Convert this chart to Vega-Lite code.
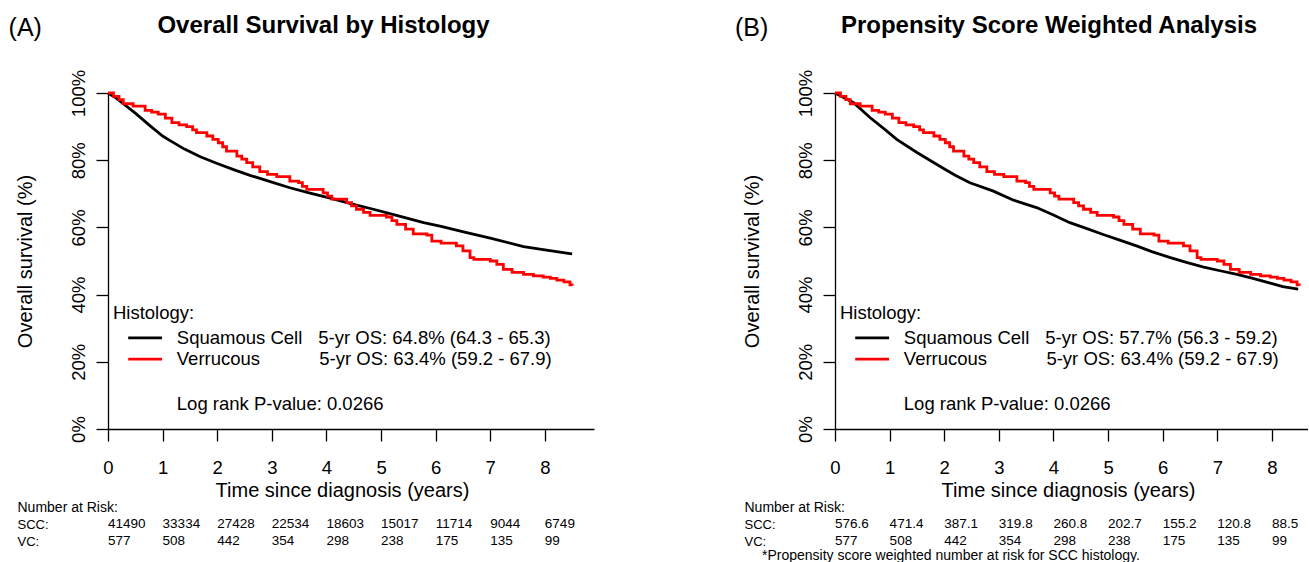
{
  "$schema": "https://vega.github.io/schema/vega-lite/v6.json",
  "padding": {"left": 8, "top": 13, "right": 0, "bottom": 0},
  "spacing": 141,
  "config": {
    "font": "Liberation Sans",
    "view": {"stroke": null},
    "axis": {"domainColor": "#000000", "tickColor": "#000000", "labelColor": "#000000", "titleColor": "#000000", "grid": false, "labelFont": "Liberation Sans", "titleFont": "Liberation Sans", "domainWidth": 1.3, "tickWidth": 1.3},
    "text": {"font": "Liberation Sans", "color": "#000000"}
  },
  "datasets": {
    "scc_a": [
      {"t": 0, "s": 1}, {"t": 0.15, "s": 0.985}, {"t": 0.28, "s": 0.968}, {"t": 0.5, "s": 0.94}, {"t": 0.75, "s": 0.905},
      {"t": 1.0, "s": 0.872}, {"t": 1.13, "s": 0.859}, {"t": 1.4, "s": 0.833}, {"t": 1.69, "s": 0.81}, {"t": 2.0, "s": 0.79},
      {"t": 2.3, "s": 0.772}, {"t": 2.6, "s": 0.755}, {"t": 3.0, "s": 0.735}, {"t": 3.33, "s": 0.718}, {"t": 3.7, "s": 0.702},
      {"t": 4.07, "s": 0.687}, {"t": 4.46, "s": 0.67}, {"t": 4.86, "s": 0.654}, {"t": 5.3, "s": 0.635}, {"t": 5.78, "s": 0.614},
      {"t": 6.1, "s": 0.603}, {"t": 6.51, "s": 0.587}, {"t": 7.0, "s": 0.568}, {"t": 7.61, "s": 0.543}, {"t": 8.0, "s": 0.533},
      {"t": 8.46, "s": 0.522}, {"t": 8.5, "s": 0.521}
    ],
    "scc_b": [
      {"t": 0, "s": 1}, {"t": 0.34, "s": 0.971}, {"t": 0.64, "s": 0.927}, {"t": 0.9, "s": 0.893}, {"t": 1.13, "s": 0.862},
      {"t": 1.5, "s": 0.823}, {"t": 1.98, "s": 0.776}, {"t": 2.2, "s": 0.755}, {"t": 2.47, "s": 0.733}, {"t": 2.9, "s": 0.708},
      {"t": 3.27, "s": 0.681}, {"t": 3.69, "s": 0.659}, {"t": 4.0, "s": 0.637}, {"t": 4.3, "s": 0.614}, {"t": 4.6, "s": 0.597},
      {"t": 4.91, "s": 0.579}, {"t": 5.2, "s": 0.563}, {"t": 5.52, "s": 0.545}, {"t": 5.8, "s": 0.528}, {"t": 6.14, "s": 0.51},
      {"t": 6.45, "s": 0.495}, {"t": 6.75, "s": 0.482}, {"t": 7.05, "s": 0.471}, {"t": 7.36, "s": 0.46}, {"t": 7.65, "s": 0.448},
      {"t": 7.97, "s": 0.434}, {"t": 8.2, "s": 0.424}, {"t": 8.48, "s": 0.416}
    ],
    "vc": [
      {"t": 0, "s": 1}, {"t": 0.1, "s": 0.99}, {"t": 0.2, "s": 0.98}, {"t": 0.28, "s": 0.968}, {"t": 0.46, "s": 0.961},
      {"t": 0.68, "s": 0.948}, {"t": 0.8, "s": 0.943}, {"t": 0.92, "s": 0.937}, {"t": 1.05, "s": 0.925}, {"t": 1.17, "s": 0.912},
      {"t": 1.3, "s": 0.905}, {"t": 1.44, "s": 0.9}, {"t": 1.55, "s": 0.89}, {"t": 1.62, "s": 0.882}, {"t": 1.81, "s": 0.872},
      {"t": 1.92, "s": 0.862}, {"t": 2.02, "s": 0.852}, {"t": 2.1, "s": 0.84}, {"t": 2.17, "s": 0.827}, {"t": 2.36, "s": 0.812},
      {"t": 2.45, "s": 0.803}, {"t": 2.54, "s": 0.793}, {"t": 2.65, "s": 0.78}, {"t": 2.78, "s": 0.766}, {"t": 2.92, "s": 0.758},
      {"t": 3.09, "s": 0.751}, {"t": 3.33, "s": 0.738}, {"t": 3.49, "s": 0.733}, {"t": 3.56, "s": 0.722}, {"t": 3.64, "s": 0.713},
      {"t": 3.94, "s": 0.703}, {"t": 4.02, "s": 0.693}, {"t": 4.1, "s": 0.684}, {"t": 4.37, "s": 0.674}, {"t": 4.46, "s": 0.664},
      {"t": 4.55, "s": 0.654}, {"t": 4.68, "s": 0.645}, {"t": 4.8, "s": 0.636}, {"t": 5.1, "s": 0.631}, {"t": 5.2, "s": 0.62},
      {"t": 5.29, "s": 0.609}, {"t": 5.45, "s": 0.595}, {"t": 5.59, "s": 0.581}, {"t": 5.84, "s": 0.577}, {"t": 5.93, "s": 0.559},
      {"t": 6.1, "s": 0.553}, {"t": 6.38, "s": 0.545}, {"t": 6.5, "s": 0.53}, {"t": 6.63, "s": 0.51}, {"t": 6.7, "s": 0.505},
      {"t": 7.0, "s": 0.5}, {"t": 7.12, "s": 0.49}, {"t": 7.24, "s": 0.475}, {"t": 7.4, "s": 0.466}, {"t": 7.61, "s": 0.46},
      {"t": 7.79, "s": 0.456}, {"t": 7.97, "s": 0.452}, {"t": 8.1, "s": 0.448}, {"t": 8.22, "s": 0.443}, {"t": 8.35, "s": 0.438},
      {"t": 8.46, "s": 0.429}, {"t": 8.5, "s": 0.426}
    ],
    "risk_a": [
      {"row": "SCC:", "t": 0, "n": "41490"}, {"row": "SCC:", "t": 1, "n": "33334"}, {"row": "SCC:", "t": 2, "n": "27428"},
      {"row": "SCC:", "t": 3, "n": "22534"}, {"row": "SCC:", "t": 4, "n": "18603"}, {"row": "SCC:", "t": 5, "n": "15017"},
      {"row": "SCC:", "t": 6, "n": "11714"}, {"row": "SCC:", "t": 7, "n": "9044"}, {"row": "SCC:", "t": 8, "n": "6749"},
      {"row": "VC:", "t": 0, "n": "577"}, {"row": "VC:", "t": 1, "n": "508"}, {"row": "VC:", "t": 2, "n": "442"},
      {"row": "VC:", "t": 3, "n": "354"}, {"row": "VC:", "t": 4, "n": "298"}, {"row": "VC:", "t": 5, "n": "238"},
      {"row": "VC:", "t": 6, "n": "175"}, {"row": "VC:", "t": 7, "n": "135"}, {"row": "VC:", "t": 8, "n": "99"}
    ],
    "risk_b": [
      {"row": "SCC:", "t": 0, "n": "576.6"}, {"row": "SCC:", "t": 1, "n": "471.4"}, {"row": "SCC:", "t": 2, "n": "387.1"},
      {"row": "SCC:", "t": 3, "n": "319.8"}, {"row": "SCC:", "t": 4, "n": "260.8"}, {"row": "SCC:", "t": 5, "n": "202.7"},
      {"row": "SCC:", "t": 6, "n": "155.2"}, {"row": "SCC:", "t": 7, "n": "120.8"}, {"row": "SCC:", "t": 8, "n": "88.5"},
      {"row": "VC:", "t": 0, "n": "577"}, {"row": "VC:", "t": 1, "n": "508"}, {"row": "VC:", "t": 2, "n": "442"},
      {"row": "VC:", "t": 3, "n": "354"}, {"row": "VC:", "t": 4, "n": "298"}, {"row": "VC:", "t": 5, "n": "238"},
      {"row": "VC:", "t": 6, "n": "175"}, {"row": "VC:", "t": 7, "n": "135"}, {"row": "VC:", "t": 8, "n": "99"}
    ]
  },
  "hconcat": [
    {
      "width": 486,
      "height": 336,
      "title": {"text": "Overall Survival by Histology", "fontSize": 24, "fontWeight": "bold", "font": "Liberation Sans", "color": "#000000", "anchor": "middle", "frame": "group", "dx": -27.5, "offset": -22},
      "layer": [
        {
          "layer": [
            {
              "data": {"name": "scc_a"},
              "mark": {"type": "line", "color": "#000000", "strokeWidth": 2.8},
              "encoding": {
                "x": {"field": "t", "type": "quantitative", "scale": {"domain": [0, 8.9], "nice": false, "zero": false},
                  "axis": {"values": [0, 1, 2, 3, 4, 5, 6, 7, 8], "format": "d", "labelFontSize": 18.5, "tickSize": 12, "labelPadding": 17, "labelFlush": false, "labelOverlap": false, "title": "Time since diagnosis (years)", "titleFontSize": 20, "titleFontWeight": "normal", "titleX": 234, "titleAlign": "center", "titlePadding": 4}},
                "y": {"field": "s", "type": "quantitative", "scale": {"domain": [0, 1], "nice": false},
                  "axis": {"values": [0, 0.2, 0.4, 0.6, 0.8, 1], "format": ".0%", "labelAngle": -90, "labelFontSize": 18.5, "tickSize": 12, "labelPadding": 8, "labelFlush": false, "labelOverlap": false, "title": "Overall survival (%)", "titleFontSize": 20, "titleFontWeight": "normal", "titlePadding": 34}}
              }
            },
            {
              "data": {"name": "vc"},
              "mark": {"type": "line", "color": "#FF0000", "strokeWidth": 2.8, "interpolate": "step-after"},
              "encoding": {"x": {"field": "t", "type": "quantitative"}, "y": {"field": "s", "type": "quantitative"}}
            },
            {"data": {"values": [{}]}, "mark": {"type": "text", "text": "(A)", "align": "left", "baseline": "alphabetic", "fontSize": 25}, "encoding": {"x": {"datum": -1.82}, "y": {"datum": 1.17}}},
            {"data": {"values": [{}]}, "mark": {"type": "text", "text": "Histology:", "align": "left", "baseline": "middle", "fontSize": 18.5}, "encoding": {"x": {"datum": 0.09}, "y": {"datum": 0.345}}},
            {"data": {"values": [{}]}, "mark": {"type": "rule", "color": "#000000", "strokeWidth": 2.8}, "encoding": {"x": {"datum": 0.37}, "x2": {"datum": 0.99}, "y": {"datum": 0.271}}},
            {"data": {"values": [{}]}, "mark": {"type": "rule", "color": "#FF0000", "strokeWidth": 2.8}, "encoding": {"x": {"datum": 0.37}, "x2": {"datum": 0.99}, "y": {"datum": 0.208}}},
            {"data": {"values": [{}]}, "mark": {"type": "text", "text": "Squamous Cell", "align": "left", "baseline": "middle", "fontSize": 18.5}, "encoding": {"x": {"datum": 1.26}, "y": {"datum": 0.271}}},
            {"data": {"values": [{}]}, "mark": {"type": "text", "text": "Verrucous", "align": "left", "baseline": "middle", "fontSize": 18.5}, "encoding": {"x": {"datum": 1.26}, "y": {"datum": 0.208}}},
            {"data": {"values": [{}]}, "mark": {"type": "text", "text": "5-yr OS: 64.8% (64.3 - 65.3)", "align": "left", "baseline": "middle", "fontSize": 18.5}, "encoding": {"x": {"datum": 3.85}, "y": {"datum": 0.271}}},
            {"data": {"values": [{}]}, "mark": {"type": "text", "text": "5-yr OS: 63.4% (59.2 - 67.9)", "align": "left", "baseline": "middle", "fontSize": 18.5}, "encoding": {"x": {"datum": 3.87}, "y": {"datum": 0.208}}},
            {"data": {"values": [{}]}, "mark": {"type": "text", "text": "Log rank P-value: 0.0266", "align": "left", "baseline": "middle", "fontSize": 18.5}, "encoding": {"x": {"datum": 1.26}, "y": {"datum": 0.074}}}
          ]
        },
        {
          "data": {"name": "risk_a"},
          "mark": {"type": "text", "align": "left", "baseline": "middle", "fontSize": 13.5},
          "encoding": {
            "x": {"field": "t", "type": "quantitative"},
            "y": {"field": "row", "type": "nominal", "scale": {"type": "point", "domain": ["Number at Risk:", "SCC:", "VC:"], "range": [414, 448], "padding": 0},
              "axis": {"orient": "left", "domain": false, "ticks": false, "tickSize": 0, "labelPadding": 91, "labelAlign": "left", "labelBaseline": "middle", "labelFontSize": {"condition": {"test": "datum.value === 'Number at Risk:'", "value": 14}, "value": 13}, "title": null}},
            "text": {"field": "n", "type": "nominal"}
          }
        }
      ],
      "resolve": {"scale": {"y": "independent"}}
    },
    {
      "width": 473,
      "height": 336,
      "title": {"text": "Propensity Score Weighted Analysis", "fontSize": 24, "fontWeight": "bold", "font": "Liberation Sans", "color": "#000000", "anchor": "middle", "frame": "group", "dx": -22.5, "offset": -22},
      "layer": [
        {
          "layer": [
            {
              "data": {"name": "scc_b"},
              "mark": {"type": "line", "color": "#000000", "strokeWidth": 2.8},
              "encoding": {
                "x": {"field": "t", "type": "quantitative", "scale": {"domain": [0, 8.66], "nice": false, "zero": false},
                  "axis": {"values": [0, 1, 2, 3, 4, 5, 6, 7, 8], "format": "d", "labelFontSize": 18.5, "tickSize": 12, "labelPadding": 17, "labelFlush": false, "labelOverlap": false, "title": "Time since diagnosis (years)", "titleFontSize": 20, "titleFontWeight": "normal", "titleX": 233, "titleAlign": "center", "titlePadding": 4}},
                "y": {"field": "s", "type": "quantitative", "scale": {"domain": [0, 1], "nice": false},
                  "axis": {"values": [0, 0.2, 0.4, 0.6, 0.8, 1], "format": ".0%", "labelAngle": -90, "labelFontSize": 18.5, "tickSize": 12, "labelPadding": 8, "labelFlush": false, "labelOverlap": false, "title": "Overall survival (%)", "titleFontSize": 20, "titleFontWeight": "normal", "titlePadding": 34}}
              }
            },
            {
              "data": {"name": "vc"},
              "mark": {"type": "line", "color": "#FF0000", "strokeWidth": 2.8, "interpolate": "step-after"},
              "encoding": {"x": {"field": "t", "type": "quantitative"}, "y": {"field": "s", "type": "quantitative"}}
            },
            {"data": {"values": [{}]}, "mark": {"type": "text", "text": "(B)", "align": "left", "baseline": "alphabetic", "fontSize": 25}, "encoding": {"x": {"datum": -1.83}, "y": {"datum": 1.17}}},
            {"data": {"values": [{}]}, "mark": {"type": "text", "text": "Histology:", "align": "left", "baseline": "middle", "fontSize": 18.5}, "encoding": {"x": {"datum": 0.09}, "y": {"datum": 0.345}}},
            {"data": {"values": [{}]}, "mark": {"type": "rule", "color": "#000000", "strokeWidth": 2.8}, "encoding": {"x": {"datum": 0.37}, "x2": {"datum": 0.99}, "y": {"datum": 0.271}}},
            {"data": {"values": [{}]}, "mark": {"type": "rule", "color": "#FF0000", "strokeWidth": 2.8}, "encoding": {"x": {"datum": 0.37}, "x2": {"datum": 0.99}, "y": {"datum": 0.208}}},
            {"data": {"values": [{}]}, "mark": {"type": "text", "text": "Squamous Cell", "align": "left", "baseline": "middle", "fontSize": 18.5}, "encoding": {"x": {"datum": 1.26}, "y": {"datum": 0.271}}},
            {"data": {"values": [{}]}, "mark": {"type": "text", "text": "Verrucous", "align": "left", "baseline": "middle", "fontSize": 18.5}, "encoding": {"x": {"datum": 1.26}, "y": {"datum": 0.208}}},
            {"data": {"values": [{}]}, "mark": {"type": "text", "text": "5-yr OS: 57.7% (56.3 - 59.2)", "align": "left", "baseline": "middle", "fontSize": 18.5}, "encoding": {"x": {"datum": 3.85}, "y": {"datum": 0.271}}},
            {"data": {"values": [{}]}, "mark": {"type": "text", "text": "5-yr OS: 63.4% (59.2 - 67.9)", "align": "left", "baseline": "middle", "fontSize": 18.5}, "encoding": {"x": {"datum": 3.87}, "y": {"datum": 0.208}}},
            {"data": {"values": [{}]}, "mark": {"type": "text", "text": "Log rank P-value: 0.0266", "align": "left", "baseline": "middle", "fontSize": 18.5}, "encoding": {"x": {"datum": 1.26}, "y": {"datum": 0.074}}},
            {"data": {"values": [{}]}, "mark": {"type": "text", "text": "*Propensity score weighted number at risk for SCC histology.", "align": "left", "baseline": "middle", "fontSize": 14}, "encoding": {"x": {"datum": -1.337}, "y": {"datum": -0.378}}}
          ]
        },
        {
          "data": {"name": "risk_b"},
          "mark": {"type": "text", "align": "left", "baseline": "middle", "fontSize": 13.5},
          "encoding": {
            "x": {"field": "t", "type": "quantitative"},
            "y": {"field": "row", "type": "nominal", "scale": {"type": "point", "domain": ["Number at Risk:", "SCC:", "VC:"], "range": [414, 448], "padding": 0},
              "axis": {"orient": "left", "domain": false, "ticks": false, "tickSize": 0, "labelPadding": 91, "labelAlign": "left", "labelBaseline": "middle", "labelFontSize": {"condition": {"test": "datum.value === 'Number at Risk:'", "value": 14}, "value": 13}, "title": null}},
            "text": {"field": "n", "type": "nominal"}
          }
        }
      ],
      "resolve": {"scale": {"y": "independent"}}
    }
  ]
}
